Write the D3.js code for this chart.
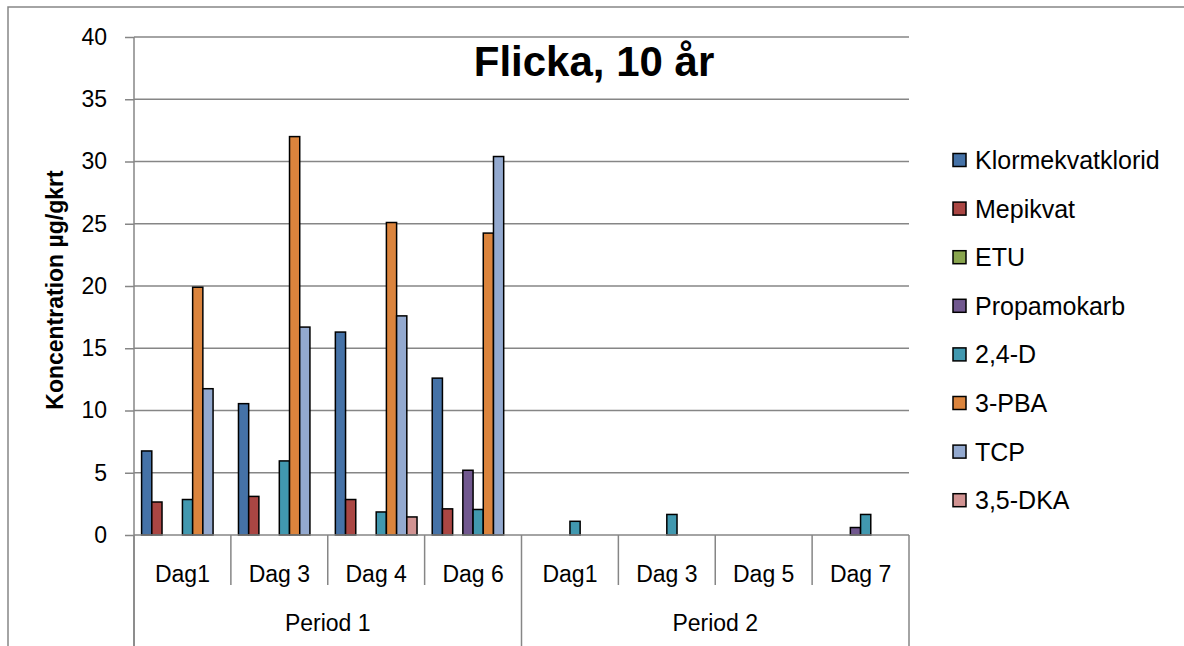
<!DOCTYPE html>
<html><head><meta charset="utf-8">
<script src="https://cdn.jsdelivr.net/npm/d3@7"></script>
<style>
body{margin:0;background:#fff;}
svg{display:block;}
text{font-family:"Liberation Sans",Arial,sans-serif;fill:#000;}
</style></head>
<body>
<svg id="c" width="1184" height="646"></svg>
<script>
const title = "Flicka, 10 år";
const yLabel = "Koncentration µg/gkrt";
const days = ["Dag1","Dag 3","Dag 4","Dag 6","Dag1","Dag 3","Dag 5","Dag 7"];
const periods = ["Period 1","Period 2"];
const daysPerPeriod = 4;
const seriesNames = ["Klormekvatklorid","Mepikvat","ETU","Propamokarb","2,4-D","3-PBA","TCP","3,5-DKA"];
const seriesColors = ["#4572A7","#AA4643","#89A54E","#71588F","#4198AF","#DB843D","#93A9CF","#D19392"];
const klormekvatklorid = [6.75,10.55,16.3,12.6,0,0,0,0];
const mepikvat = [2.65,3.1,2.85,2.1,0,0,0,0];
const etu = [0,0,0,0,0,0,0,0];
const propamokarb = [0,0,0,5.2,0,0,0,0.6];
const d24 = [2.85,5.95,1.85,2.05,1.1,1.65,0,1.65];
const pba = [19.9,32.0,25.1,24.25,0,0,0,0];
const tcp = [11.75,16.7,17.6,30.4,0,0,0,0];
const dka = [0,0,1.45,0,0,0,0,0];
const seriesValues = [klormekvatklorid,mepikvat,etu,propamokarb,d24,pba,tcp,dka];
const yTicks = [0,5,10,15,20,25,30,35,40];

const svg = d3.select("#c");
const L=134, R=909, T=37, B=535;
const grey="#868686";

// outer frame
svg.append("rect").attr("x",8).attr("y",7).attr("width",1200).attr("height",700)
  .attr("fill","none").attr("stroke",grey).attr("stroke-width",1.5);

const x = d3.scaleBand().domain(d3.range(days.length)).range([L,R]).paddingInner(0).paddingOuter(0);
const xs = d3.scaleBand().domain(d3.range(seriesNames.length)).range([7.6, x.bandwidth()-7.6]).padding(0);
const y = d3.scaleLinear().domain([0,40]).range([B,T]);

// gridlines
svg.append("g").selectAll("line").data(yTicks.filter(d=>d>0)).join("line")
  .attr("x1",L).attr("x2",R).attr("y1",d=>y(d)).attr("y2",d=>y(d))
  .attr("stroke",grey).attr("stroke-width",1.5);

// y axis
const ya = svg.append("g").attr("transform",`translate(${L},0)`)
  .call(d3.axisLeft(y).tickValues(yTicks).tickSize(9).tickPadding(18));
ya.select(".domain").remove();
ya.selectAll(".tick line").attr("stroke",grey).attr("stroke-width",1.5);
ya.selectAll(".tick text").attr("font-family","'Liberation Sans',Arial,sans-serif").attr("font-size",23).attr("fill","#000");
svg.append("line").attr("x1",L).attr("x2",L).attr("y1",T).attr("y2",646).attr("stroke",grey).attr("stroke-width",1.5);

// bars
const gBars = svg.append("g");
seriesValues.forEach((vals,si)=>{
  gBars.append("g").selectAll("rect").data(vals.map((v,i)=>({v,i})).filter(d=>d.v>0)).join("rect")
    .attr("x",d=>x(d.i)+xs(si))
    .attr("y",d=>y(d.v))
    .attr("width",xs.bandwidth())
    .attr("height",d=>B-y(d.v))
    .attr("fill",seriesColors[si])
    .attr("stroke","#000").attr("stroke-width",1.5);
});

// category axis
svg.append("line").attr("x1",L).attr("x2",R).attr("y1",B).attr("y2",B).attr("stroke",grey).attr("stroke-width",1.5);
const bounds = d3.range(days.length+1);
svg.append("g").selectAll("line").data(bounds).join("line")
  .attr("x1",i=>i<days.length?x(i):R).attr("x2",i=>i<days.length?x(i):R)
  .attr("y1",B).attr("y2",i=>i%daysPerPeriod===0?646:585)
  .attr("stroke",grey).attr("stroke-width",1.5);
svg.append("g").selectAll("text").data(days).join("text")
  .attr("x",(d,i)=>x(i)+x.bandwidth()/2).attr("y",582)
  .attr("text-anchor","middle").attr("font-size",23).text(d=>d);
svg.append("g").selectAll("text").data(periods).join("text")
  .attr("x",(d,i)=>x(i*daysPerPeriod)+x.bandwidth()*daysPerPeriod/2).attr("y",631)
  .attr("text-anchor","middle").attr("font-size",23).text(d=>d);

// title
svg.append("text").attr("x",594).attr("y",76).attr("text-anchor","middle")
  .attr("font-size",42).attr("font-weight","bold").text(title);

// y label
svg.append("text").attr("transform","translate(63,290) rotate(-90)")
  .attr("text-anchor","middle").attr("font-size",23).attr("font-weight","bold").text(yLabel);

// legend
const lg = svg.append("g");
seriesNames.forEach((n,i)=>{
  const cy = 160 + i*48.6;
  lg.append("rect").attr("x",953).attr("y",cy-6.5).attr("width",13).attr("height",13)
    .attr("fill",seriesColors[i]).attr("stroke","#000").attr("stroke-width",1.5);
  lg.append("text").attr("x",975).attr("y",cy+9).attr("font-size",25).text(n);
});
</script>
</body></html>
